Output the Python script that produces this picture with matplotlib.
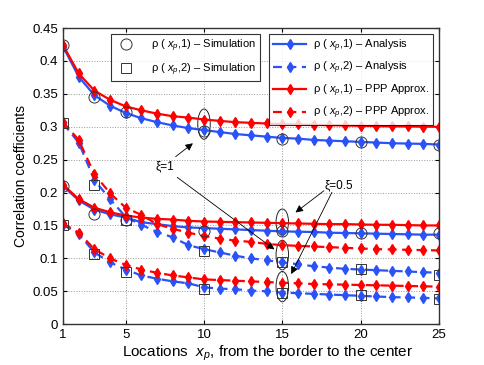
import matplotlib
matplotlib.use('Agg')
import matplotlib.pyplot as plt
from matplotlib.lines import Line2D
from matplotlib.patches import Ellipse
import numpy as np

plt.rcParams['font.family'] = ['Liberation Sans', 'DejaVu Sans']
plt.rcParams['mathtext.fontset'] = 'custom'
plt.rcParams['mathtext.rm'] = 'Liberation Sans'
plt.rcParams['mathtext.it'] = 'Liberation Sans:italic'

locations = np.arange(1, 26)
sim_locations = [1, 3, 5, 10, 15, 20, 25]

# xi = 1
rho1_analysis_xi1 = [0.422, 0.376, 0.348, 0.332, 0.321, 0.313, 0.307, 0.302, 0.298, 0.295,
                     0.292, 0.289, 0.287, 0.285, 0.283, 0.282, 0.280, 0.279, 0.278, 0.277,
                     0.276, 0.275, 0.2745, 0.274, 0.273]
rho1_ppp_xi1 = [0.424, 0.381, 0.355, 0.341, 0.331, 0.325, 0.320, 0.316, 0.314, 0.311,
                0.309, 0.307, 0.306, 0.305, 0.304, 0.3035, 0.303, 0.3025, 0.302, 0.3015,
                0.301, 0.3007, 0.3005, 0.3002, 0.300]
rho2_analysis_xi1 = [0.305, 0.276, 0.219, 0.190, 0.163, 0.151, 0.140, 0.132, 0.120, 0.114,
                     0.109, 0.104, 0.100, 0.097, 0.094, 0.091, 0.088, 0.086, 0.084, 0.083,
                     0.082, 0.081, 0.080, 0.079, 0.078]
rho2_ppp_xi1 = [0.307, 0.280, 0.228, 0.199, 0.177, 0.166, 0.152, 0.145, 0.139, 0.134,
                0.130, 0.127, 0.125, 0.122, 0.120, 0.119, 0.118, 0.117, 0.116, 0.115,
                0.114, 0.1135, 0.113, 0.1125, 0.112]

# xi = 0.5
rho1_analysis_xi05 = [0.210, 0.188, 0.174, 0.167, 0.162, 0.155, 0.152, 0.149, 0.147, 0.146,
                      0.145, 0.144, 0.143, 0.142, 0.141, 0.1405, 0.140, 0.139, 0.1385, 0.138,
                      0.1375, 0.137, 0.1365, 0.136, 0.136]
rho1_ppp_xi05 = [0.212, 0.190, 0.177, 0.170, 0.165, 0.162, 0.160, 0.159, 0.157, 0.156,
                 0.1555, 0.155, 0.1545, 0.154, 0.1535, 0.153, 0.1525, 0.152, 0.152, 0.1515,
                 0.151, 0.151, 0.1505, 0.150, 0.150]
rho2_analysis_xi05 = [0.151, 0.137, 0.109, 0.094, 0.083, 0.074, 0.069, 0.065, 0.062, 0.056,
                      0.054, 0.053, 0.051, 0.050, 0.048, 0.047, 0.046, 0.045, 0.044, 0.043,
                      0.042, 0.041, 0.0405, 0.040, 0.039]
rho2_ppp_xi05 = [0.153, 0.139, 0.114, 0.100, 0.090, 0.083, 0.078, 0.074, 0.071, 0.068,
                 0.067, 0.066, 0.065, 0.064, 0.063, 0.062, 0.061, 0.0605, 0.060, 0.0595,
                 0.059, 0.0585, 0.058, 0.0575, 0.057]

# simulation points
rho1_sim_xi1 = [0.424, 0.345, 0.322, 0.294, 0.282, 0.277, 0.273]
rho1_sim_xi05 = [0.210, 0.167, 0.159, 0.142, 0.141, 0.138, 0.139]
rho2_sim_xi1 = [0.305, 0.212, 0.158, 0.111, 0.095, 0.084, 0.075]
rho2_sim_xi05 = [0.150, 0.106, 0.079, 0.053, 0.048, 0.044, 0.038]

blue = '#2a52f5'
red = '#ff0000'

fig = plt.figure(figsize=(4.85, 3.65), dpi=100)
ax = fig.add_axes([0.130, 0.112, 0.775, 0.811])

dash = (0, (4, 2.5))
line_kw = dict(linewidth=1.6, marker='d', markersize=5)
for y in [rho1_analysis_xi1, rho1_analysis_xi05]:
    ax.plot(locations, y, color=blue, linestyle='-', **line_kw)
for y in [rho2_analysis_xi1, rho2_analysis_xi05]:
    ax.plot(locations, y, color=blue, linestyle=dash, **line_kw)
for y in [rho1_ppp_xi1, rho1_ppp_xi05]:
    ax.plot(locations, y, color=red, linestyle='-', **line_kw)
for y in [rho2_ppp_xi1, rho2_ppp_xi05]:
    ax.plot(locations, y, color=red, linestyle=dash, **line_kw)

sim_kw = dict(linestyle='none', markerfacecolor='none', markeredgecolor='#333333',
              markeredgewidth=0.7)
for y in [rho1_sim_xi1, rho1_sim_xi05]:
    ax.plot(sim_locations, y, marker='o', markersize=8, **sim_kw)
for y in [rho2_sim_xi1, rho2_sim_xi05]:
    ax.plot(sim_locations, y, marker='s', markersize=6.5, **sim_kw)

# ellipses
for cx, cy, h in [(10, 0.304, 0.046), (15, 0.155, 0.040),
                  (15, 0.105, 0.045), (15, 0.057, 0.046)]:
    ax.add_patch(Ellipse((cx, cy), 0.8, h, facecolor='none',
                         edgecolor='#222222', linewidth=0.7))

arrow = dict(arrowstyle='-|>', color='k', lw=0.6, mutation_scale=11)
ax.text(7.5, 0.240, 'ξ=1', fontsize=8.5, ha='center', va='center')
ax.annotate('', xy=(9.43, 0.2775), xytext=(8.05, 0.252), arrowprops=arrow)
ax.annotate('', xy=(14.64, 0.111), xytext=(8.15, 0.2256), arrowprops=arrow)
ax.text(18.6, 0.211, 'ξ=0.5', fontsize=8.5, ha='center', va='center')
ax.annotate('', xy=(15.70, 0.1672), xytext=(17.8, 0.2053), arrowprops=arrow)
ax.annotate('', xy=(15.49, 0.0723), xytext=(18.25, 0.2043), arrowprops=arrow)

ax.set_xlim(1, 25)
ax.set_ylim(0, 0.45)
ax.set_xticks([1, 5, 10, 15, 20, 25])
ax.set_yticks(np.arange(0, 0.46, 0.05))
ax.set_yticklabels(['0', '0.05', '0.1', '0.15', '0.2', '0.25', '0.3', '0.35', '0.4', '0.45'])
ax.tick_params(direction='in', top=True, right=True, labelsize=9.5, length=3)
ax.grid(True, linestyle=':', color='#999999', linewidth=0.7)
for side in ax.spines:
    ax.spines[side].set_linewidth(1.0)
    ax.spines[side].set_color('#333333')

ax.set_ylabel('Correlation coefficients', fontsize=10, labelpad=3)
ax.set_xlabel(r'Locations  $x_p$, from the border to the center', fontsize=11, labelpad=2)
ax.xaxis.label.set_x(0.545)

sim_handles = [
    Line2D([], [], marker='o', markersize=8, **sim_kw),
    Line2D([], [], marker='s', markersize=6.5, **sim_kw),
]
sim_labels = [r'ρ ( $x_p$,1) – Simulation', r'ρ ( $x_p$,2) – Simulation']
leg1 = ax.legend(sim_handles, sim_labels, loc='upper left',
                 bbox_to_anchor=(0.2165, 0.923), bbox_transform=fig.transFigure,
                 fontsize=8, frameon=True, fancybox=False, edgecolor='k',
                 handlelength=2.0, borderpad=0.35, labelspacing=0.65,
                 handletextpad=1.3)
leg1.get_frame().set_linewidth(0.8)
ax.add_artist(leg1)

line_handles = [
    Line2D([], [], color=blue, linestyle='-', **line_kw),
    Line2D([], [], color=blue, linestyle=dash, **line_kw),
    Line2D([], [], color=red, linestyle='-', **line_kw),
    Line2D([], [], color=red, linestyle=dash, **line_kw),
]
line_labels = [r'ρ ( $x_p$,1) – Analysis', r'ρ ( $x_p$,2) – Analysis',
               r'ρ ( $x_p$,1) – PPP Approx.', r'ρ ( $x_p$,2) – PPP Approx.']
leg2 = ax.legend(line_handles, line_labels, loc='upper right',
                 bbox_to_anchor=(0.905, 0.923), bbox_transform=fig.transFigure,
                 fontsize=8, frameon=True, fancybox=False, edgecolor='k',
                 handlelength=3.0, borderpad=0.35, labelspacing=0.55,
                 handletextpad=0.6)
leg2.get_frame().set_linewidth(0.8)

fig.savefig('out.png', dpi=100)
